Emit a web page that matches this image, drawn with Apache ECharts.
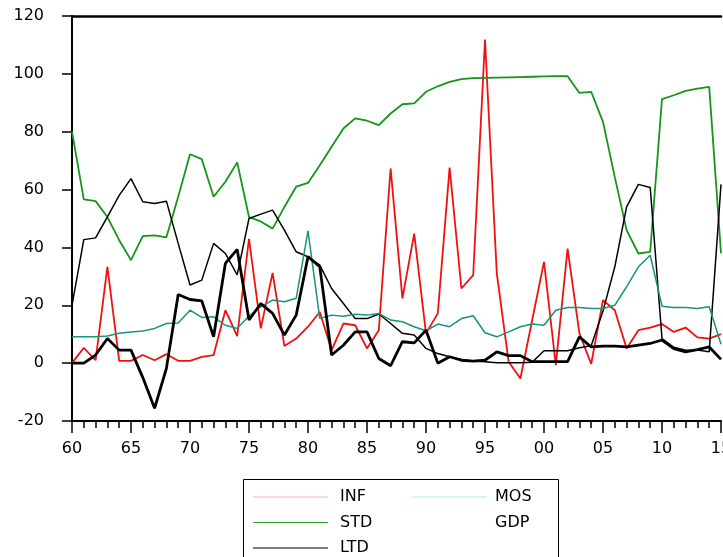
<!DOCTYPE html>
<html>
<head>
<meta charset="utf-8">
<script src="https://cdn.jsdelivr.net/npm/echarts@6/dist/echarts.min.js"></script>
<style>
html,body{margin:0;padding:0;background:#fff;}
#chart{width:723px;height:557px;}
</style>
</head>
<body>
<div id="chart"></div>
<script>
var years = [1960,1961,1962,1963,1964,1965,1966,1967,1968,1969,
  1970,1971,1972,1973,1974,1975,1976,1977,1978,1979,
  1980,1981,1982,1983,1984,1985,1986,1987,1988,1989,
  1990,1991,1992,1993,1994,1995,1996,1997,1998,1999,
  2000,2001,2002,2003,2004,2005,2006,2007,2008,2009,
  2010,2011,2012,2013,2014,2015];

var INF = [0,5.3,1,33.3,0.8,0.8,2.8,1,3.1,0.8,
  0.8,2.2,2.8,18.3,9.3,43,12,31.2,5.9,8.5,
  12.6,17.7,4.5,13.7,13.1,5.1,11.4,67.3,22.4,44.8,
  10.3,17.2,67.6,25.8,30.4,111.9,31,0.5,-5.3,14.9,
  35,-0.7,39.6,10.3,-0.3,21.8,18.3,5.1,11.4,12.3,
  13.5,10.8,12.3,8.9,8.5,10];

var STD = [80,56.6,56,50.5,42.5,35.6,43.9,44.2,43.5,57.5,
  72.2,70.5,57.5,62.7,69.4,50.5,49,46.5,54,61,
  62.3,68.4,74.8,81.1,84.6,83.8,82.3,86.3,89.5,89.8,
  93.8,95.7,97.2,98.2,98.5,98.6,98.7,98.8,98.9,99,
  99.1,99.2,99.2,93.4,93.8,83.4,64.3,46,37.9,38.5,
  91.3,92.6,94.1,94.9,95.5,38];

var LTD = [20,42.7,43.3,50.6,58,63.8,55.8,55.2,56,41.4,
  27,28.7,41.4,37.9,30.5,50,51.5,52.9,46,38.5,
  36.8,33.9,25.8,20.6,15.4,15.4,17,13.7,10.3,9.7,
  5.1,3.3,2.2,1.3,0.7,0.5,0.1,0.1,0.1,0.3,
  4.3,4.3,4.3,5.3,6,18,33.3,54,61.8,60.7,
  8.5,5.5,4.5,4.5,3.9,61.8];

var MOS = [9.1,9.1,9.1,9.4,10.3,10.8,11.1,12,13.7,13.9,
  18.3,15.8,16,13.1,12,16.3,19.5,21.8,21.2,22.4,
  45.7,15.4,16.6,16.2,16.9,16.6,17.2,14.9,14.3,12.6,
  11.2,13.5,12.6,15.4,16.4,10.5,9.1,10.8,12.6,13.5,
  13.1,18.3,19.2,19.2,18.9,18.9,20,26.4,33.3,37.3,
  19.7,19.2,19.2,18.9,19.5,6.5];

var GDP = [0,0,2.8,8.5,4.5,4.5,-5,-15.6,-1.8,23.7,
  22,21.5,9.1,34.5,39.3,14.9,20.6,17.2,9.7,16.6,
  36.8,33.3,2.8,6.2,10.8,10.8,1.6,-0.9,7.4,7,
  11.4,0,2.2,1,0.7,1,3.9,2.6,2.6,0.5,
  0.5,0.5,0.5,9.1,5.6,5.9,5.9,5.6,6.2,6.8,
  8,5,3.9,4.7,5.6,1.3];

var xTickLabels = {1960:'60',1965:'65',1970:'70',1975:'75',1980:'80',1985:'85',1990:'90',
  1995:'95',2000:'00',2005:'05',2010:'10',2015:'15'};

function pairs(vals){ return years.map(function(y,i){ return [y, vals[i]]; }); }

var FONT = 'DejaVu Sans';
var chart = echarts.init(document.getElementById('chart'), null, {renderer:'canvas'});

function mkSeries(name, vals, color, width){
  return {name:name, type:'line', data:pairs(vals), symbol:'none', showSymbol:false,
    lineStyle:{color:color, width:width}, itemStyle:{color:color}, z: 2};
}

var legendText = {fontFamily:FONT, fontSize:16, color:'#000', lineHeight:16};

chart.setOption({
  animation:false,
  backgroundColor:'#fff',
  grid:{left:72, right:2, top:16, bottom:136, containLabel:false, outerBoundsMode:'none'},
  xAxis:[{
    type:'value', min:1960, max:2015, interval:5,
    axisLine:{show:true, onZero:false, lineStyle:{color:'#000', width:2}},
    axisTick:{show:true, length:12, lineStyle:{color:'#000', width:1.5}},
    minorTick:{show:true, splitNumber:5, length:7, lineStyle:{color:'#000', width:1.5}},
    splitLine:{show:false}, minorSplitLine:{show:false},
    axisLabel:{margin:20, fontFamily:FONT, fontSize:16, color:'#000', hideOverlap:false,
      showMinLabel:true, showMaxLabel:true,
      formatter:function(v){ return xTickLabels[v] || ''; }}
  },{
    type:'value', min:1960, max:2015, position:'top',
    axisLine:{show:true, onZero:false, lineStyle:{color:'#000', width:2.5}},
    axisTick:{show:false}, axisLabel:{show:false}, splitLine:{show:false}
  }],
  yAxis:{
    type:'value', min:-20, max:120, interval:20,
    axisLine:{show:true, onZero:false, lineStyle:{color:'#000', width:2}},
    axisTick:{show:true, length:10, lineStyle:{color:'#000', width:1.5}},
    splitLine:{show:false},
    axisLabel:{margin:28, fontFamily:FONT, fontSize:16, color:'#000'}
  },
  legend:[{
    orient:'vertical', left:253, top:489, padding:0, itemWidth:75, itemHeight:1, itemGap:9.5,
    icon:'rect', height:80,
    selectedMode:false, textStyle:Object.assign({padding:[0,0,0,7]}, legendText),
    data:[
      {name:'INF', itemStyle:{color:'#ffb0b0'}},
      {name:'STD', itemStyle:{color:'#2aa52a'}},
      {name:'LTD', itemStyle:{color:'#000'}}
    ]
  },{
    orient:'vertical', left:412, top:489, padding:0, itemWidth:75, itemHeight:1, itemGap:9.5,
    icon:'rect', height:80,
    selectedMode:false, textStyle:Object.assign({padding:[0,0,0,3]}, legendText),
    data:[
      {name:'MOS', itemStyle:{color:'#a8eeee'}},
      {name:'GDP', itemStyle:{color:'rgba(255,255,255,0)'}}
    ]
  }],
  graphic:[{
    type:'rect', silent:true,
    shape:{x:243.5, y:479.5, width:315, height:100},
    style:{fill:'none', stroke:'#000', lineWidth:1}
  }],
  series:[
    mkSeries('INF', INF, '#f01010', 1.8),
    mkSeries('STD', STD, '#14961a', 1.8),
    mkSeries('LTD', LTD, '#000000', 1.5),
    mkSeries('MOS', MOS, '#16957a', 1.5),
    mkSeries('GDP', GDP, '#000000', 2.8)
  ]
});
</script>
</body>
</html>
